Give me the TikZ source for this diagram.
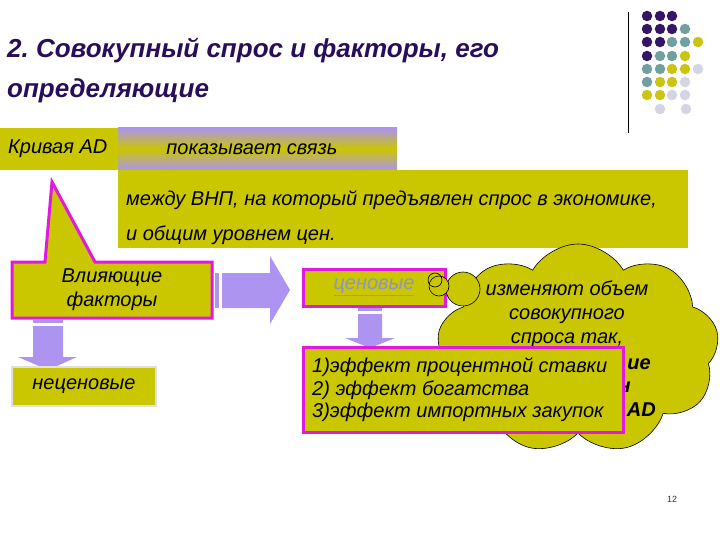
\documentclass[tikz,border=0pt]{standalone}
\usepackage{fontspec}
\setmainfont{Liberation Sans}
\usetikzlibrary{shapes.symbols}
\definecolor{oliv}{RGB}{202,198,0}
\definecolor{lav}{RGB}{172,148,240}
\definecolor{mag}{RGB}{226,24,222}
\definecolor{ttl}{RGB}{40,14,90}
\definecolor{dp}{RGB}{52,22,102}
\definecolor{dt}{RGB}{112,160,160}
\definecolor{dy}{RGB}{204,196,20}
\definecolor{dl}{RGB}{212,212,228}
\definecolor{lnk}{RGB}{140,148,200}
\frenchspacing
\tikzset{
  txt/.style={font=\fontsize{20}{24}\selectfont\itshape, inner sep=0pt},
  ttlstyle/.style={anchor=west, inner sep=0pt, text=ttl, font=\fontsize{26}{30}\selectfont\bfseries\itshape},
  magbox/.style={draw=mag, line width=3pt, fill=oliv},
  arr/.style={fill=lav, draw=none},
  dot/.style={circle, minimum size=10.5pt, inner sep=0pt},
  bub/.style={draw=black, fill=oliv, line width=0.6pt},
}
\begin{document}
\begin{tikzpicture}[x=1pt,y=-1pt]
\useasboundingbox (0,0) rectangle (720,540);
% title
\node[ttlstyle] (t1) at (7,50) {2. Совокупный спрос и факторы, его};
\node[ttlstyle] (t2) at (7,91) {определяющие};
% decoration
\draw[line width=1pt] (628,12) -- (628,133);
\foreach \c/\x/\y in {dp/647/16,dp/660/16,dp/672/16,
  dp/647/29,dp/660/29,dp/672/29,dt/685/29,
  dp/647/42,dp/660/42,dt/672/42,dt/685/42,dy/698/42,
  dp/647/56,dt/660/56,dt/672/56,dy/685/56,
  dt/647/69,dt/660/69,dy/672/69,dy/685/69,dl/698/69,
  dt/647/82,dy/660/82,dy/672/82,dl/685/82,
  dy/647/95,dy/660/95,dl/672/95,dl/685/95,
  dl/660/109,dl/686/109}
  \node[dot, fill=\c] at (\x,\y) {};
% top boxes
\fill[oliv] (0,128) rectangle (118,170);
\node[txt, anchor=west] (kad) at (8,149) {Кривая AD};
\shade[top color=lav, bottom color=lav, middle color=oliv] (118,128) rectangle (397,170);
\node[txt] (pok) at (252,149) {показывает связь};
\fill[oliv] (118,170) rectangle (688,248);
\node[txt, anchor=west] (m1) at (126,200) {между ВНП, на который предъявлен спрос в экономике,};
\node[txt, anchor=west] (m2) at (126,235) {и общим уровнем цен.};
% callout
\draw[magbox, line join=miter] (12,262) -- (45,262) -- (52,182) -- (95,262) -- (212,262) -- (212,318) -- (12,318) -- cycle;
\node[txt, align=center] (vf) at (112,290) {Влияющие\\факторы};
% right arrow
\fill[arr] (215,273) rectangle (219,308);
\fill[arr] (222,273) -- (270,273) -- (270,256) -- (290,290) -- (270,324) -- (270,308) -- (222,308) -- cycle;
% down arrow left
\fill[arr] (33,320) rectangle (63,323);
\fill[arr] (33,326) -- (63,326) -- (63,357) -- (77,357) -- (48,370) -- (18,357) -- (33,357) -- cycle;
% неценовые
\fill[black!12] (11,366) rectangle (157,407);
\fill[oliv] (13,368) rectangle (155,405);
\node[txt] (nc) at (84,386) {неценовые};
% cloud
\node[cloud, cloud puffs=9, cloud puff arc=120, draw=black, line width=0.6pt, fill=oliv, minimum width=282pt, minimum height=210pt, inner sep=0pt] (cl) at (578,349) {};
\node[txt, align=center] (ct) at (567,314) {изменяют объем\\совокупного\\спроса так,};
\node[txt, anchor=east, font=\fontsize{20}{24}\selectfont\bfseries\itshape] (f1) at (651,364) {ие};
\node[txt, anchor=east, font=\fontsize{20}{24}\selectfont\bfseries\itshape] (f2) at (631,387) {н};
\node[txt, anchor=east, font=\fontsize{20}{24}\selectfont\bfseries\itshape] (f3) at (656,410) {AD};
% ценовые
\draw[magbox] (303,269) rectangle (445,306);
\node[txt, text=lnk] (cn) at (374,287) {\underline{ценовые}};
% bubbles
\draw[bub] (463,289) circle (17);
\draw[bub] (439,286) circle (10);
\draw[line width=0.6pt] (435,280) circle (7);
% down arrow right
\fill[arr] (358,308) rectangle (382,311);
\fill[arr] (358,314) -- (382,314) -- (382,338) -- (395,338) -- (370,348) -- (345,338) -- (358,338) -- cycle;
% effects
\draw[magbox] (303,347) rectangle (623,432);
\node[txt, anchor=west, align=left, font=\fontsize{20}{22.5}\selectfont\itshape] (ef) at (312,390) {1)эффект процентной ставки\\2) эффект богатства\\3)эффект импортных закупок};
% page number
\node[inner sep=0pt, font=\fontsize{9}{10}\selectfont, text=black!80] (pg) at (672,499) {12};
\end{tikzpicture}
\end{document}
